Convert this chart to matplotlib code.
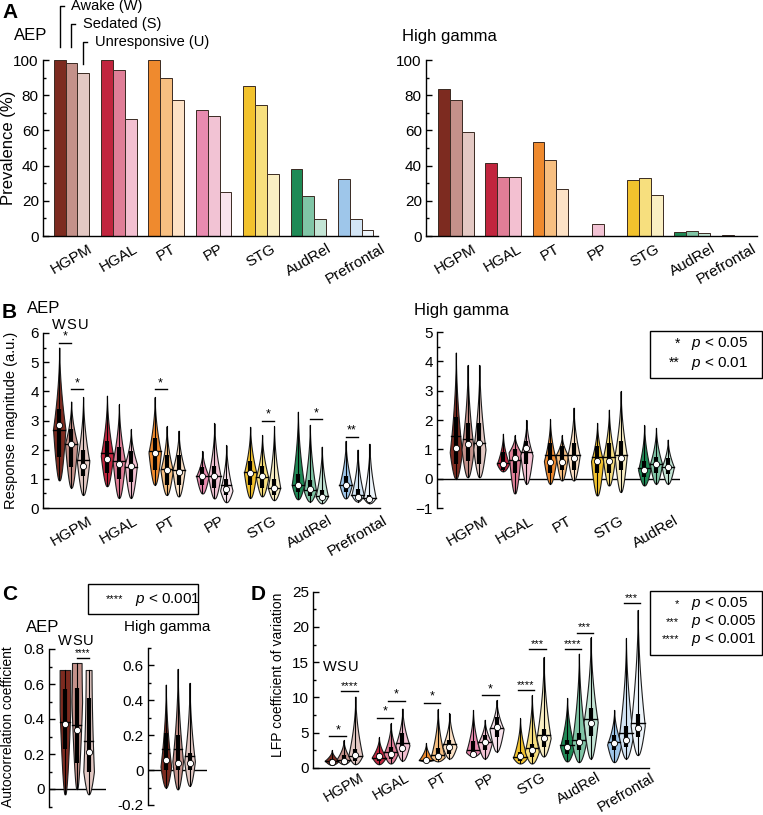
import numpy as np
import matplotlib
matplotlib.use("Agg")
import matplotlib.pyplot as plt
from matplotlib.patches import Rectangle
from matplotlib.ticker import MultipleLocator
from matplotlib.transforms import ScaledTranslation

plt.rcParams["font.family"] = ["Liberation Sans", "DejaVu Sans"]
plt.rcParams["mathtext.fontset"] = "custom"
plt.rcParams["mathtext.it"] = "Liberation Sans:italic"
plt.rcParams["mathtext.rm"] = "Liberation Sans"

regions = ["HGPM", "HGAL", "PT", "PP", "STG", "AudRel", "Prefrontal"]
hg_regions = ["HGPM", "HGAL", "PT", "STG", "AudRel"]
hg_index = [0, 1, 2, 4, 5]
states = ["W", "S", "U"]

colors = [
    ["#7d2b20", "#c4918a", "#e3c8c3"],
    ["#c1253e", "#e07e97", "#f3c0d1"],
    ["#ef8a2e", "#f7bf81", "#fde2c6"],
    ["#e98bb0", "#f2c3d4", "#f8e3ec"],
    ["#f2c22d", "#f7df7e", "#faefc3"],
    ["#1f8a56", "#80c5a6", "#c3e5d5"],
    ["#9ec6ea", "#d3e5f5", "#eef5fb"],
]

# A: prevalence (%)
aep_prev = [[100, 98.5, 92.5], [100, 94.5, 66.7], [100, 90, 77], [71.4, 68, 25],
            [85.3, 74.7, 35], [38.2, 22.6, 9.6], [32.4, 9.4, 3.6]]
hg_prev = [[83.3, 77.5, 59], [41.7, 33.3, 33.3], [53.3, 43.3, 26.7], [0, 7.1, 0],
           [31.6, 32.9, 23.4], [2.1, 2.8, 1.5], [0.8, 0.2, 0.2]]

# B: response magnitude, AEP
b_aep_lo = [[0.95, 0.7, 0.45], [0.75, 0.35, 0.35], [0.8, 0.45, 0.4], [0.5, 0.33, 0.2],
            [0.35, 0.4, 0.27], [0.3, 0.22, 0.16], [0.33, 0.22, 0.16]]
b_aep_hi = [[5.5, 3.65, 3.8], [3.85, 3.55, 2.7], [3.8, 2.8, 2.65], [1.95, 2.9, 2.15],
            [2.78, 2.5, 2.8], [3.3, 2.85, 2.1], [2.3, 2.0, 2.2]]
b_aep_mode = [[2.7, 2.2, 1.6], [1.8, 1.6, 1.5], [1.9, 1.3, 1.3], [1.1, 1.1, 0.6],
              [1.2, 1.05, 0.7], [0.8, 0.6, 0.4], [0.8, 0.45, 0.35]]
b_aep_med = [[2.85, 2.2, 1.45], [1.67, 1.5, 1.45], [1.87, 1.3, 1.22], [1.1, 1.1, 0.64],
             [1.2, 1.1, 0.67], [0.79, 0.64, 0.37], [0.79, 0.39, 0.3]]
b_aep_mean = [[2.67, 2.2, 1.64], [1.87, 1.6, 1.4], [1.95, 1.35, 1.3], [1.1, 1.1, 0.8],
              [1.25, 1.05, 0.7], [0.8, 0.6, 0.4], [0.8, 0.45, 0.35]]
b_aep_q1 = [[1.75, 1.4, 1.1], [1.2, 1.0, 0.9], [1.3, 0.8, 0.8], [0.8, 0.7, 0.45],
            [0.8, 0.7, 0.45], [0.55, 0.4, 0.27], [0.55, 0.3, 0.22]]
b_aep_q3 = [[3.4, 2.7, 2.0], [2.3, 2.1, 1.95], [2.4, 1.8, 1.8], [1.4, 1.45, 1.0],
            [1.6, 1.45, 1.0], [1.15, 0.95, 0.6], [1.1, 0.65, 0.45]]
b_aep_sig = [(0, 0, 5.66, "*"), (0, 1, 4.08, "*"), (2, 0, 4.08, "*"), (4, 1, 3.0, "*"),
             (5, 1, 3.05, "*"), (6, 0, 2.44, "**")]

# B: response magnitude, high gamma
b_hg_lo = [[0.0, 0.05, 0.05], [0.25, -0.5, -0.17], [-0.17, -0.06, -0.06],
           [-0.57, -0.23, -0.45], [-0.23, -0.17, -0.17]]
b_hg_hi = [[4.3, 3.87, 3.87], [1.53, 1.48, 2.0], [2.02, 1.48, 2.42],
           [1.9, 2.35, 2.98], [1.82, 1.73, 1.33]]
b_hg_mode = [[0.9, 1.0, 1.0], [0.5, 0.9, 0.8], [0.6, 0.8, 0.8], [0.6, 0.7, 0.8], [0.3, 0.5, 0.4]]
b_hg_med = [[1.05, 1.17, 1.2], [0.5, 0.7, 1.05], [0.57, 0.57, 0.7], [0.6, 0.6, 0.7], [0.28, 0.5, 0.4]]
b_hg_mean = [[1.45, 1.35, 1.23], [0.55, 0.65, 0.9], [0.8, 0.8, 0.8], [0.75, 0.75, 0.8], [0.35, 0.5, 0.4]]
b_hg_q1 = [[0.5, 0.6, 0.5], [0.3, 0.2, 0.5], [0.2, 0.3, 0.3], [0.2, 0.2, 0.3], [0.05, 0.2, 0.15]]
b_hg_q3 = [[2.1, 1.9, 1.9], [0.9, 1.0, 1.3], [1.2, 1.1, 1.2], [1.1, 1.2, 1.3], [0.6, 0.75, 0.7]]

# C: autocorrelation coefficient (HGPM)
c_aep_lo = [-0.03, 0.0, -0.03]
c_aep_hi = [0.68, 0.72, 0.68]
c_aep_mode = [0.45, 0.5, 0.1]
c_aep_top = [1.0, 0.9, 0.55]
c_aep_med = [0.37, 0.34, 0.21]
c_aep_mean = [0.385, 0.365, 0.275]
c_aep_q1 = [0.23, 0.15, 0.1]
c_aep_q3 = [0.57, 0.58, 0.52]
c_hg_lo = [-0.1, -0.11, -0.09]
c_hg_hi = [0.49, 0.58, 0.5]
c_hg_mode = [0.02, 0.05, 0.05]
c_hg_med = [0.057, 0.04, 0.04]
c_hg_mean = [0.12, 0.12, 0.08]
c_hg_q1 = [0.0, 0.0, 0.0]
c_hg_q3 = [0.21, 0.2, 0.1]

# D: LFP coefficient of variation
d_lo = [[0.4, 0.5, 0.5], [0.5, 0.6, 1.0], [0.9, 0.9, 1.3], [1.6, 1.3, 2.3],
        [0.6, 0.6, 1.6], [0.9, 0.8, 1.3], [0.8, 1.3, 1.8]]
d_hi = [[2.5, 3.9, 10.1], [4.3, 6.3, 8.4], [3.5, 8.3, 7.7], [8.2, 6.8, 9.6],
        [7.0, 10.3, 15.7], [9.9, 16.2, 18.5], [8.2, 18.4, 22.4]]
d_mode = [[1.0, 1.2, 1.7], [1.5, 2.0, 3.2], [1.1, 1.5, 3.0], [2.2, 3.5, 5.5],
          [1.4, 2.3, 4.2], [3.0, 3.5, 6.5], [3.3, 4.5, 6.0]]
d_med = [[0.85, 1.0, 1.8], [1.6, 2.0, 2.75], [1.1, 1.7, 3.0], [2.0, 3.7, 5.8],
         [1.7, 2.5, 4.2], [3.0, 3.7, 6.3], [3.5, 4.0, 5.6]]
d_mean = [[0.9, 1.1, 1.6], [1.4, 2.2, 3.5], [1.1, 1.8, 3.3], [2.5, 3.7, 5.7],
          [1.5, 2.8, 4.6], [3.2, 4.0, 6.9], [3.7, 4.9, 6.3]]
d_q1 = [[0.6, 0.7, 1.0], [1.0, 1.2, 2.2], [0.9, 1.1, 2.0], [1.8, 2.5, 4.3],
        [1.0, 1.5, 3.0], [2.0, 2.5, 4.5], [2.5, 3.0, 4.3]]
d_q3 = [[1.3, 1.8, 2.6], [2.1, 3.0, 5.0], [1.4, 2.8, 4.0], [3.8, 4.6, 7.2],
        [2.2, 3.4, 5.5], [4.0, 5.0, 8.5], [4.6, 5.9, 7.6]]
d_sig = [(0, 0, 4.5, "*"), (0, 1, 10.9, "****"), (1, 0, 7.1, "*"), (1, 1, 9.5, "*"),
         (2, 0, 9.2, "*"), (3, 1, 10.3, "*"), (4, 0, 11.0, "****"), (4, 1, 16.8, "***"),
         (5, 0, 16.8, "****"), (5, 1, 19.2, "***"), (6, 1, 23.4, "***")]

W, H = 763, 815
fig = plt.figure(figsize=(W / 100, H / 100), dpi=100)
TICK = 11


def px_axes(x0, x1, ytop, ybot):
    return fig.add_axes([x0 / W, 1 - ybot / H, (x1 - x0) / W, (ybot - ytop) / H])


def px(x, y):
    return x / W, 1 - y / H


def style_axes(ax, major, minor, bottom=True):
    for s in ["top", "right"]:
        ax.spines[s].set_visible(False)
    ax.spines["bottom"].set_visible(bottom)
    ax.spines["left"].set_linewidth(1.0)
    ax.spines["bottom"].set_linewidth(1.0)
    ax.yaxis.set_major_locator(MultipleLocator(major))
    ax.yaxis.set_minor_locator(MultipleLocator(minor))
    ax.tick_params(axis="y", which="major", direction="in", length=4, width=1, labelsize=TICK, pad=3)
    ax.tick_params(axis="y", which="minor", direction="in", length=2.5, width=1)
    ax.tick_params(axis="x", length=0, labelsize=TICK, pad=4)


def violin(ax, x, lo, hi, mode, med, mean, q1, q3, color, hw, top_w=0.0):
    ys = np.linspace(lo, hi, 120)
    low = 0.08 + 0.92 * np.clip((ys - lo) / (mode - lo), 0, 1) ** 0.6
    high = top_w + (1 - top_w) * np.clip((hi - ys) / (hi - mode), 0, 1) ** 1.8
    w = np.where(ys <= mode, low, high)
    ax.fill_betweenx(ys, x - hw * w, x + hw * w, facecolor=color, edgecolor="#1e1e1e",
                     linewidth=0.8, zorder=2)
    ax.plot([x, x], [lo, hi], color="black", lw=0.8, zorder=3)
    ax.plot([x, x], [q1, q3], color="black", lw=3, solid_capstyle="butt", zorder=3)
    wl = np.interp(mean, ys, w)
    ax.plot([x - hw * wl, x + hw * wl], [mean, mean], color="black", lw=1, zorder=3)
    ax.scatter([x], [med], s=20, c="white", edgecolors="black", linewidths=0.6, zorder=4)


def sig(ax, x0, x1, y, stars, size=9):
    ax.plot([x0, x1], [y, y], color="black", lw=1, clip_on=False)
    ax.text((x0 + x1) / 2, y, stars, ha="center", va="bottom", fontsize=size, clip_on=False)


offs = [-0.25, 0, 0.25]

# ---- A ----
for ax_box, prev, xlim, title, tx in [((43, 378), aep_prev, (-0.6, 6.47), "AEP", 14),
                                      ((426, 757), hg_prev, (-0.63, 6.37), "High gamma", 402)]:
    ax = px_axes(ax_box[0], ax_box[1], 60, 236)
    for g in range(len(regions)):
        for s in range(3):
            ax.bar(g + offs[s], prev[g][s], width=0.25, color=colors[g][s],
                   edgecolor="#3a2a22", linewidth=0.7)
    ax.set_xlim(*xlim)
    ax.set_ylim(0, 100)
    style_axes(ax, 20, 10)
    ax.set_xticks(range(len(regions)))
    ax.set_xticklabels(regions, rotation=30, ha="center")
    fig.text(*px(tx, 36), title, fontsize=12, va="center", ha="left")
    if title == "AEP":
        ax_a = ax
    else:
        last = ax.get_xticklabels()[-1]
        last.set_transform(last.get_transform() + ScaledTranslation(-0.13, 0, fig.dpi_scale_trans))

fig.text(*px(9, 148), "Prevalence (%)", rotation=90, fontsize=12, va="center", ha="center")
fig.text(*px(2, 12), "A", fontsize=15, fontweight="bold", va="center", ha="left")

state_names = ["Awake (W)", "Sedated (S)", "Unresponsive (U)"]
for s, (ybot, ytop) in enumerate([(107.5, 130.7), (107.5, 120.5), (97.5, 110.2)]):
    x = offs[s]
    ax_a.plot([x, x, x + 0.085], [ybot, ytop, ytop], color="black", lw=1, clip_on=False)
    ax_a.text(x + 0.25, ytop, state_names[s], fontsize=10.5, va="center", ha="left")

# ---- B ----
ax = px_axes(43, 380, 333, 508)
for g in range(len(regions)):
    for s in range(3):
        violin(ax, g + offs[s], b_aep_lo[g][s], b_aep_hi[g][s], b_aep_mode[g][s],
               b_aep_med[g][s], b_aep_mean[g][s], b_aep_q1[g][s], b_aep_q3[g][s],
               colors[g][s], 0.13)
for g, p, y, st in b_aep_sig:
    sig(ax, g + offs[p], g + offs[p + 1], y, st)
for s in range(3):
    ax.text(offs[s], 6.03, states[s], fontsize=10.5, ha="center", va="bottom", clip_on=False)
ax.set_xlim(-0.59, 6.47)
ax.set_ylim(0, 6)
style_axes(ax, 1, 0.5)
ax.set_xticks(range(len(regions)))
ax.set_xticklabels(regions, rotation=30, ha="center")
fig.text(*px(27, 308), "AEP", fontsize=12, va="center", ha="left")
fig.text(*px(2, 313), "B", fontsize=15, fontweight="bold", va="center", ha="left")
fig.text(*px(11, 420), "Response magnitude (a.u.)", rotation=90, fontsize=10.5,
         va="center", ha="center")

ax = px_axes(437, 680, 332, 508)
for i, g in enumerate(hg_index):
    for s in range(3):
        violin(ax, i + offs[s], b_hg_lo[i][s], b_hg_hi[i][s], b_hg_mode[i][s],
               b_hg_med[i][s], b_hg_mean[i][s], b_hg_q1[i][s], b_hg_q3[i][s],
               colors[g][s], 0.13)
ax.axhline(0, color="black", lw=1, zorder=1)
ax.set_xlim(-0.65, 4.51)
ax.set_ylim(-1, 5)
style_axes(ax, 1, 0.5, bottom=False)
ax.set_xticks(range(len(hg_regions)))
ax.set_xticklabels(hg_regions, rotation=30, ha="center")
fig.text(*px(414, 311), "High gamma", fontsize=12, va="center", ha="left")

fig.add_artist(Rectangle(px(650, 378), 112 / W, 47 / H, transform=fig.transFigure,
                         fill=False, edgecolor="black", lw=1))
for y, st, lab in [(344, "*", "$p$ < 0.05"), (363, "**", "$p$ < 0.01")]:
    fig.text(*px(680, y), st, fontsize=10, ha="right", va="center")
    fig.text(*px(691, y), lab, fontsize=11, ha="left", va="center")

# ---- C ----
ax = px_axes(49, 106, 649, 806.5)
for s in range(3):
    violin(ax, s, c_aep_lo[s], c_aep_hi[s], c_aep_mode[s], c_aep_med[s], c_aep_mean[s],
           c_aep_q1[s], c_aep_q3[s], colors[0][s], 0.45, top_w=c_aep_top[s])
    ax.text(s, 0.805, states[s], fontsize=10.5, ha="center", va="bottom", clip_on=False)
sig(ax, 1, 2, 0.747, "****", size=7)
ax.axhline(0, color="black", lw=1, zorder=1)
ax.set_xlim(-1.35, 3.47)
ax.set_ylim(-0.1, 0.8)
style_axes(ax, 0.2, 0.1, bottom=False)
ax.set_yticks([0, 0.2, 0.4, 0.6, 0.8])
ax.set_yticklabels(["0", "0.2", "0.4", "0.6", "0.8"])
ax.set_xticks([])

ax = px_axes(148, 207, 648, 805)
for s in range(3):
    violin(ax, s, c_hg_lo[s], c_hg_hi[s], c_hg_mode[s], c_hg_med[s], c_hg_mean[s],
           c_hg_q1[s], c_hg_q3[s], colors[0][s], 0.45)
ax.axhline(0, color="black", lw=1, zorder=1)
ax.set_xlim(-1.5, 3.47)
ax.set_ylim(-0.2, 0.7)
style_axes(ax, 0.2, 0.1, bottom=False)
ax.set_yticks([-0.2, 0, 0.2, 0.4, 0.6])
ax.set_yticklabels(["-0.2", "0", "0.2", "0.4", "0.6"])
ax.set_xticks([])

fig.text(*px(2, 595), "C", fontsize=15, fontweight="bold", va="center", ha="left")
fig.text(*px(26, 627), "AEP", fontsize=12, va="center", ha="left")
fig.text(*px(124, 627), "High gamma", fontsize=11, va="center", ha="left")
fig.text(*px(8, 727), "Autocorrelation coefficient", rotation=90, fontsize=10,
         va="center", ha="center")
fig.add_artist(Rectangle(px(88, 614), 110 / W, 30 / H, transform=fig.transFigure,
                         fill=False, edgecolor="black", lw=1))
fig.text(*px(123, 599), "****", fontsize=8, ha="right", va="center")
fig.text(*px(135, 599), "$p$ < 0.001", fontsize=11, ha="left", va="center")

# ---- D ----
ax = px_axes(313, 649, 591.7, 767.7)
for g in range(len(regions)):
    for s in range(3):
        violin(ax, g + offs[s], d_lo[g][s], d_hi[g][s], d_mode[g][s], d_med[g][s],
               d_mean[g][s], d_q1[g][s], d_q3[g][s], colors[g][s], 0.15)
for g, p, y, st in d_sig:
    sig(ax, g + offs[p] - 0.05, g + offs[p + 1] + 0.05, y, st, size=8 if len(st) > 2 else 9)
for s in range(3):
    ax.text(offs[s] - 0.05, 13.3, states[s], fontsize=10.5, ha="center", va="bottom")
ax.set_xlim(-0.65, 6.49)
ax.set_ylim(0, 25)
style_axes(ax, 5, 2.5)
ax.tick_params(axis="x", labelsize=10.5, pad=2)
ax.set_xticks(range(len(regions)))
ax.set_xticklabels(regions, rotation=30, ha="center")
fig.text(*px(251, 595), "D", fontsize=15, fontweight="bold", va="center", ha="left")
fig.text(*px(278, 675), "LFP coefficient of variation", rotation=90, fontsize=10,
         va="center", ha="center")
fig.add_artist(Rectangle(px(650, 655), 112 / W, 64 / H, transform=fig.transFigure,
                         fill=False, edgecolor="black", lw=1))
for y, st, lab in [(604, "*", "$p$ < 0.05"), (622, "***", "$p$ < 0.005"), (639, "****", "$p$ < 0.001")]:
    fig.text(*px(679, y), st, fontsize=8, ha="right", va="center")
    fig.text(*px(691, y), lab, fontsize=11, ha="left", va="center")

fig.savefig("out.png", dpi=100)
